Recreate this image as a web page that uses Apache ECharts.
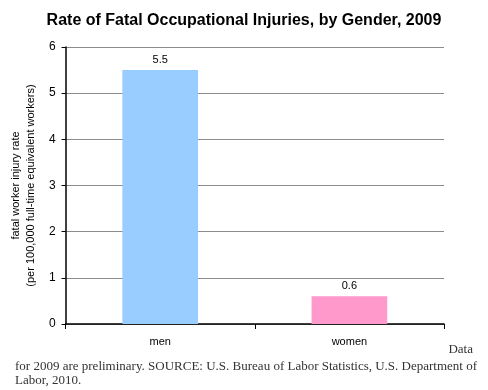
<!DOCTYPE html>
<html><head><meta charset="utf-8">
<script src="https://cdn.jsdelivr.net/npm/echarts@6/dist/echarts.min.js"></script>
<style>html,body{margin:0;padding:0;background:#fff}#c{width:488px;height:390px}</style>
</head><body><div id="c"></div>
<script>
const categories = ['men', 'women'];
const rates = [5.5, 0.6];
const barColors = ['#99CCFF', '#FF99CC'];
const yTicks = [0, 1, 2, 3, 4, 5, 6];

const chart = echarts.init(document.getElementById('c'), null, {renderer: 'canvas'});
chart.setOption({
  backgroundColor: '#ffffff',
  animation: false,
  title: [
    {text: 'Rate of Fatal Occupational Injuries, by Gender, 2009', left: 'center', top: 8,
     textStyle: {fontFamily: 'Liberation Sans, Arial', fontWeight: 'bold', fontSize: 16, color: '#000'}},
    {text: 'Data', right: 10, top: 338,
     textStyle: {fontFamily: 'Liberation Serif, Times New Roman, serif', fontWeight: 'normal', fontSize: 13, color: '#333'}},
    {text: 'for 2009 are preliminary. SOURCE: U.S. Bureau of Labor Statistics, U.S. Department of\nLabor, 2010.', left: 10, top: 355,
     textStyle: {fontFamily: 'Liberation Serif, Times New Roman, serif', fontWeight: 'normal', fontSize: 13, lineHeight: 14, color: '#333', width: 480, overflow: 'none'}}
  ],
  grid: {left: 58, right: 44, top: 47, bottom: 66, containLabel: false},
  xAxis: {
    type: 'category', data: categories,
    axisLine: {lineStyle: {color: '#000', width: 1.5}},
    axisTick: {show: true, alignWithLabel: false, length: 5, lineStyle: {color: '#000'}},
    axisLabel: {margin: 12, fontFamily: 'Liberation Sans, Arial', fontSize: 11, color: '#000'}
  },
  yAxis: {
    type: 'value', min: yTicks[0], max: yTicks[yTicks.length - 1], interval: 1,
    name: 'fatal worker injury rate\n(per 100,000 full-time equivalent workers)',
    nameLocation: 'middle', nameGap: 25, nameRotate: 90,
    nameTextStyle: {fontFamily: 'Liberation Sans, Arial', fontSize: 11, color: '#000', lineHeight: 15},
    axisLine: {show: true, lineStyle: {color: '#000', width: 1.5}},
    axisTick: {show: true, length: 4, lineStyle: {color: '#000'}},
    axisLabel: {margin: 10, fontFamily: 'Liberation Sans, Arial', fontSize: 12, color: '#000'},
    splitLine: {show: true, lineStyle: {color: '#8c8c8c', width: 1}}
  },
  series: [{
    type: 'bar', barWidth: '40%',
    data: rates.map((v, i) => ({value: v, itemStyle: {color: barColors[i]}})),
    label: {show: true, position: 'top', distance: 5, fontFamily: 'Liberation Sans, Arial', fontSize: 11, color: '#000',
            formatter: p => p.value.toFixed(1)}
  }]
});
</script></body></html>
